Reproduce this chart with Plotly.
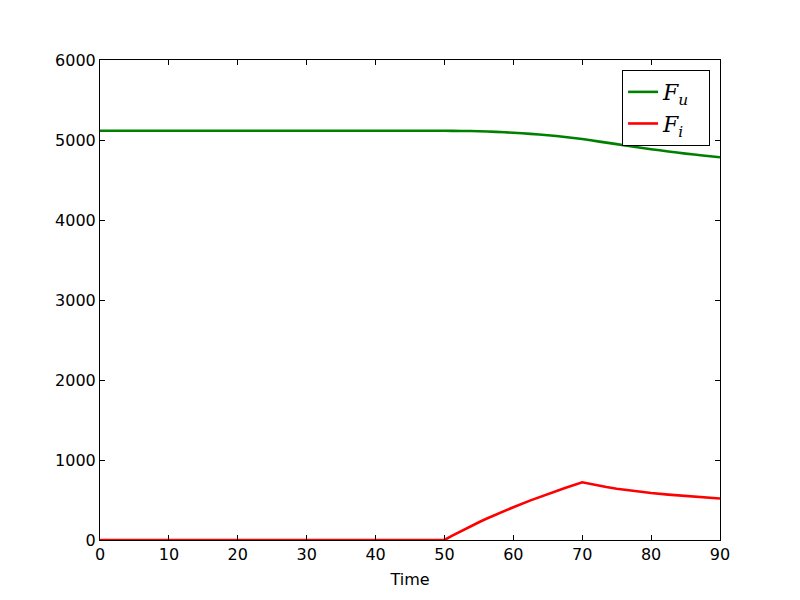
import plotly.graph_objects as go

time_u = [0, 10, 20, 30, 40, 50, 52.5, 55, 57.5, 60, 62.5, 65, 67.5, 70, 72.5, 75, 77.5, 80, 82.5, 85, 87.5, 90]
f_u = [5115, 5115, 5115, 5115, 5115, 5115, 5113, 5110, 5102, 5090, 5077, 5060, 5038, 5012, 4980, 4948, 4915, 4885, 4857, 4830, 4806, 4785]

time_i = [0, 10, 20, 30, 40, 50, 51, 52, 53, 54, 55, 56, 57.5, 59, 60, 62.5, 65, 67.5, 70, 71, 72, 73.5, 75, 77.5, 80, 82.5, 85, 87.5, 90]
f_i = [0, 0, 0, 0, 0, 0, 48, 93, 137, 180, 222, 262, 320, 375, 410, 495, 575, 650, 722, 703, 686, 662, 641, 610, 587, 567, 550, 533, 518]

x_ticks = [0, 10, 20, 30, 40, 50, 60, 70, 80, 90]
y_ticks = [0, 1000, 2000, 3000, 4000, 5000, 6000]

fig = go.Figure()
fig.add_trace(go.Scatter(x=time_u, y=f_u, mode="lines", line=dict(color="#008000", width=2.6, shape="spline", smoothing=0.6),
                         name="<i>F</i><sub><i>u</i></sub>  "))
fig.add_trace(go.Scatter(x=time_i, y=f_i, mode="lines", line=dict(color="#ff0000", width=2.6),
                         name="<i>F</i><sub><i>i</i></sub>  "))

axis_common = dict(showgrid=False, zeroline=False, showline=True, linecolor="black", linewidth=1,
                   mirror="ticks", ticks="inside", ticklen=5, tickcolor="black",
                   tickfont=dict(family="DejaVu Sans", size=16, color="black"))
fig.update_xaxes(range=[0, 90], tickvals=x_ticks, title=dict(text="Time", font=dict(family="DejaVu Sans", size=16, color="black"), standoff=10), **axis_common)
fig.update_yaxes(range=[0, 6000], tickvals=y_ticks, **axis_common)

fig.update_layout(
    width=800, height=600,
    margin=dict(l=92, r=88, t=52, b=68),
    plot_bgcolor="white", paper_bgcolor="white",
    legend=dict(x=0.984, y=0.979, xanchor="right", yanchor="top", bordercolor="black", borderwidth=1,
                bgcolor="white", font=dict(family="DejaVu Serif", size=22, color="black")),
    showlegend=True,
)
fig.write_html("out.html")
